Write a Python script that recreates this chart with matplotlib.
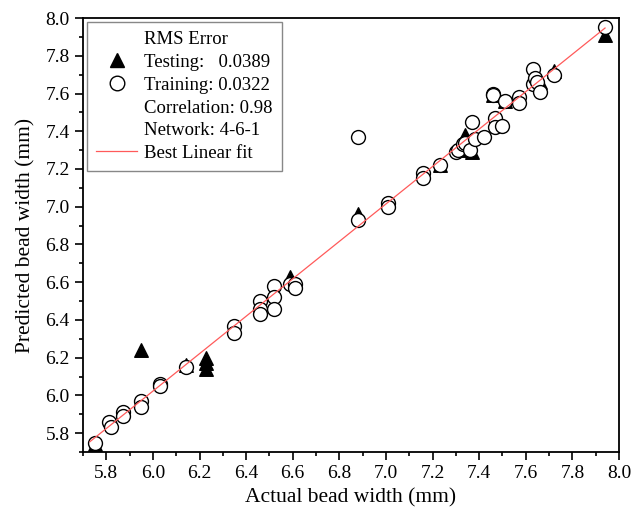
import numpy as np
import matplotlib
matplotlib.use("Agg")
import matplotlib.pyplot as plt
from matplotlib.lines import Line2D
from matplotlib.ticker import MultipleLocator, FormatStrFormatter

plt.rcParams['font.family'] = ['Liberation Serif', 'DejaVu Serif']

# training set (actual, predicted)
train_x = [5.75, 5.81, 5.82, 5.87, 5.87, 5.95, 5.95, 6.03, 6.03, 6.14,
           6.35, 6.35, 6.46, 6.46, 6.46, 6.52, 6.52, 6.52, 6.59, 6.61,
           6.61, 6.88, 6.88, 7.01, 7.01, 7.16, 7.16, 7.23, 7.30, 7.31,
           7.33, 7.34, 7.36, 7.37, 7.38, 7.42, 7.46, 7.46, 7.47, 7.47,
           7.50, 7.51, 7.57, 7.57, 7.63, 7.63, 7.64, 7.65, 7.66, 7.72,
           7.94]
train_y = [5.75, 5.86, 5.83, 5.91, 5.89, 5.97, 5.94, 6.06, 6.05, 6.15,
           6.37, 6.33, 6.50, 6.46, 6.43, 6.58, 6.52, 6.46, 6.59, 6.59,
           6.57, 6.93, 7.37, 7.02, 7.00, 7.18, 7.15, 7.22, 7.29, 7.30,
           7.33, 7.34, 7.30, 7.45, 7.36, 7.37, 7.60, 7.59, 7.47, 7.42,
           7.43, 7.56, 7.58, 7.55, 7.73, 7.65, 7.68, 7.66, 7.61, 7.70,
           7.95]

# testing set
test_x = [5.75, 5.95, 6.14, 6.23, 6.23, 6.23, 6.59, 6.88, 7.23, 7.34,
          7.35, 7.37, 7.46, 7.51, 7.65, 7.66, 7.72, 7.94]
test_y = [5.74, 6.24, 6.16, 6.20, 6.17, 6.14, 6.63, 6.96, 7.22, 7.38,
          7.30, 7.29, 7.59, 7.56, 7.70, 7.66, 7.72, 7.91]

# best linear fit end points
fit_x = [5.73, 7.94]
fit_y = [5.755, 7.947]

fig = plt.figure(figsize=(6.31, 5.15), dpi=100)
ax = fig.add_axes([0.1315, 0.1223, 0.8495, 0.8427])

ax.scatter(test_x, test_y, marker='^', s=95, c='black', zorder=2)
ax.scatter(train_x, train_y, marker='o', s=100, facecolors='white',
           edgecolors='black', linewidths=1.0, zorder=3)
ax.plot(fit_x, fit_y, color='#ff5a5a', lw=0.9, zorder=4)

ax.set_xlim(5.7, 8.0)
ax.set_ylim(5.7, 8.0)
ax.set_xticks(np.arange(5.8, 8.01, 0.2))
ax.set_yticks(np.arange(5.8, 8.01, 0.2))
ax.xaxis.set_minor_locator(MultipleLocator(0.1))
ax.yaxis.set_minor_locator(MultipleLocator(0.1))
ax.xaxis.set_major_formatter(FormatStrFormatter('%.1f'))
ax.yaxis.set_major_formatter(FormatStrFormatter('%.1f'))
ax.tick_params(which='both', direction='out', top=False, right=False,
               labelsize=14, width=1.2)
ax.tick_params(which='major', length=6)
ax.tick_params(which='minor', length=3)
for s in ax.spines.values():
    s.set_linewidth(1.3)

ax.set_xlabel('Actual bead width (mm)', fontsize=15.5, labelpad=4)
ax.set_ylabel('Predicted bead width (mm)', fontsize=15.5, labelpad=7)

blank = Line2D([], [], linestyle='none', marker=None)
handles = [blank,
           Line2D([], [], linestyle='none', marker='^', color='black', markersize=10.5),
           Line2D([], [], linestyle='none', marker='o', markerfacecolor='white',
                  markeredgecolor='black', markersize=10.5),
           blank, blank,
           Line2D([], [], color='#ff5a5a', lw=0.9)]
labels = ['RMS Error', 'Testing:   0.0389', 'Training: 0.0322',
          'Correlation: 0.98', 'Network: 4-6-1', 'Best Linear fit']
leg = ax.legend(handles, labels, loc='upper left', fontsize=13.5,
                fancybox=False, framealpha=1, edgecolor='#888888',
                handlelength=2.2, handletextpad=0.35, labelspacing=0.3,
                borderaxespad=0.2, borderpad=0.5)
leg.get_frame().set_linewidth(1.0)

fig.savefig('out.png', dpi=100)
